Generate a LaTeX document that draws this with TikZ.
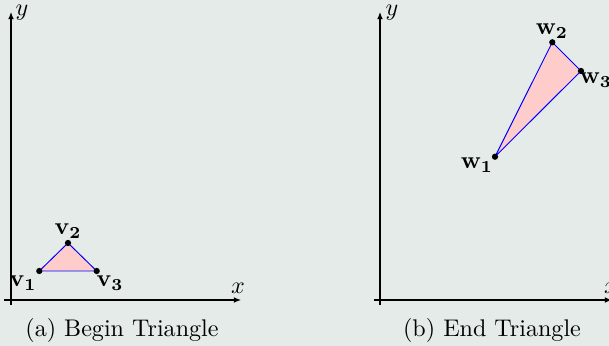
\documentclass[tikz,border=0pt]{standalone}
\usetikzlibrary{arrows.meta}
\definecolor{bgcol}{RGB}{228,235,232}
\definecolor{trifill}{RGB}{255,204,204}
\begin{document}
\begin{tikzpicture}[x=0.415pt,y=-0.415pt,
  axis/.style={-{Latex[length=3pt,width=2.4pt]},line width=0.45pt},
  vdot/.style={circle,fill=black,inner sep=0pt,minimum size=2.6pt},
  tri/.style={draw=blue,fill=trifill,line width=0.4pt},
  lbl/.style={inner sep=0pt}]
\fill[bgcol] (0,0) rectangle (609,346);
\useasboundingbox (0,0) rectangle (609,346);
% ---------- left panel
\coordinate (axs) at (4,300);
\coordinate (axe) at (241,300);
\coordinate (ays) at (11,305);
\coordinate (aye) at (11,12);
\draw[axis] (axs) -- (axe);
\draw[axis] (ays) -- (aye);
\node[lbl] (axlab) at (238,288) {$x$};
\node[lbl] (aylab) at (22,13) {$y$};
\coordinate (v1) at (39.3,271);
\coordinate (v2) at (68,243);
\coordinate (v3) at (96.7,271);
\draw[tri] (v1) -- (v2) -- (v3) -- cycle;
\node[vdot] (v1d) at (v1) {};
\node[vdot] (v2d) at (v2) {};
\node[vdot] (v3d) at (v3) {};
\node[lbl] (v1l) at (23,283) {$\mathbf{v_1}$};
\node[lbl] (v2l) at (68,231) {$\mathbf{v_2}$};
\node[lbl] (v3l) at (110,283) {$\mathbf{v_3}$};
\node[lbl] (capa) at (122,330) {(a) Begin Triangle};
% ---------- right panel
\coordinate (bxs) at (374,300);
\coordinate (bxe) at (612,300);
\coordinate (bys) at (380,305);
\coordinate (bye) at (380,12);
\draw[axis] (bxs) -- (bxe);
\draw[axis] (bys) -- (bye);
\node[lbl] (bxlab) at (611,288) {$x$};
\node[lbl] (bylab) at (392,13) {$y$};
\coordinate (w1) at (495,156.7);
\coordinate (w2) at (552.3,42.3);
\coordinate (w3) at (581,71);
\draw[tri] (w1) -- (w2) -- (w3) -- cycle;
\node[vdot] (w1d) at (w1) {};
\node[vdot] (w2d) at (w2) {};
\node[vdot] (w3d) at (w3) {};
\node[lbl] (w1l) at (477,165) {$\mathbf{w_1}$};
\node[lbl] (w2l) at (552,31) {$\mathbf{w_2}$};
\node[lbl] (w3l) at (596,80) {$\mathbf{w_3}$};
\node[lbl] (capb) at (492,330) {(b) End Triangle};
\end{tikzpicture}
\end{document}
